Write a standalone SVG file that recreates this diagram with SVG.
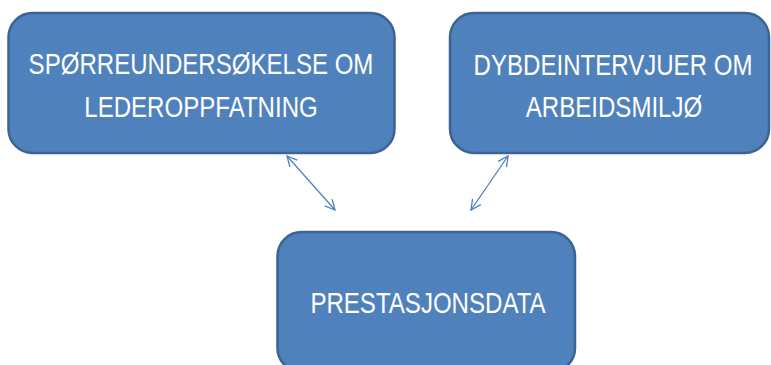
<svg xmlns="http://www.w3.org/2000/svg" width="771" height="365" viewBox="0 0 771 365">
  <style>
    .box { fill: #4f81bd; stroke: #3b6394; stroke-width: 2.5; }
    .label { fill: #ffffff; font-family: "Liberation Sans", Arial, sans-serif; font-size: 29px; text-anchor: middle; }
    .link { fill: none; stroke: #4f81bd; stroke-width: 1.3; marker-start: url(#head); marker-end: url(#head); }
  </style>
  <defs>
    <marker id="head" viewBox="0 0 12 12" refX="11" refY="6" markerWidth="12" markerHeight="12" markerUnits="userSpaceOnUse" orient="auto-start-reverse">
      <path d="M1,1 L11,6 L1,11" fill="none" stroke="#4f81bd" stroke-width="1.3"/>
    </marker>
  </defs>

  <!-- labels are set in a slightly condensed sans: each is scaled 0.83 horizontally about its centre -->
  <g id="survey">
    <rect class="box" x="8.5" y="13" width="386" height="140" rx="24"/>
    <text class="label" transform="translate(201 74) scale(0.83 1)">SPØRREUNDERSØKELSE OM</text>
    <text class="label" transform="translate(201 117) scale(0.83 1)">LEDEROPPFATNING</text>
  </g>

  <g id="interviews">
    <rect class="box" x="450" y="13" width="319" height="140" rx="24"/>
    <text class="label" transform="translate(613 75) scale(0.83 1)">DYBDEINTERVJUER OM</text>
    <text class="label" transform="translate(614 117) scale(0.83 1)">ARBEIDSMILJØ</text>
  </g>

  <g id="performance">
    <rect class="box" x="277.5" y="232" width="297.5" height="140" rx="24"/>
    <text class="label" transform="translate(428 313) scale(0.83 1)">PRESTASJONSDATA</text>
  </g>

  <g id="connectors">
    <line class="link" x1="287" y1="156" x2="335" y2="210"/>
    <line class="link" x1="508" y1="156" x2="471" y2="210"/>
  </g>
</svg>
